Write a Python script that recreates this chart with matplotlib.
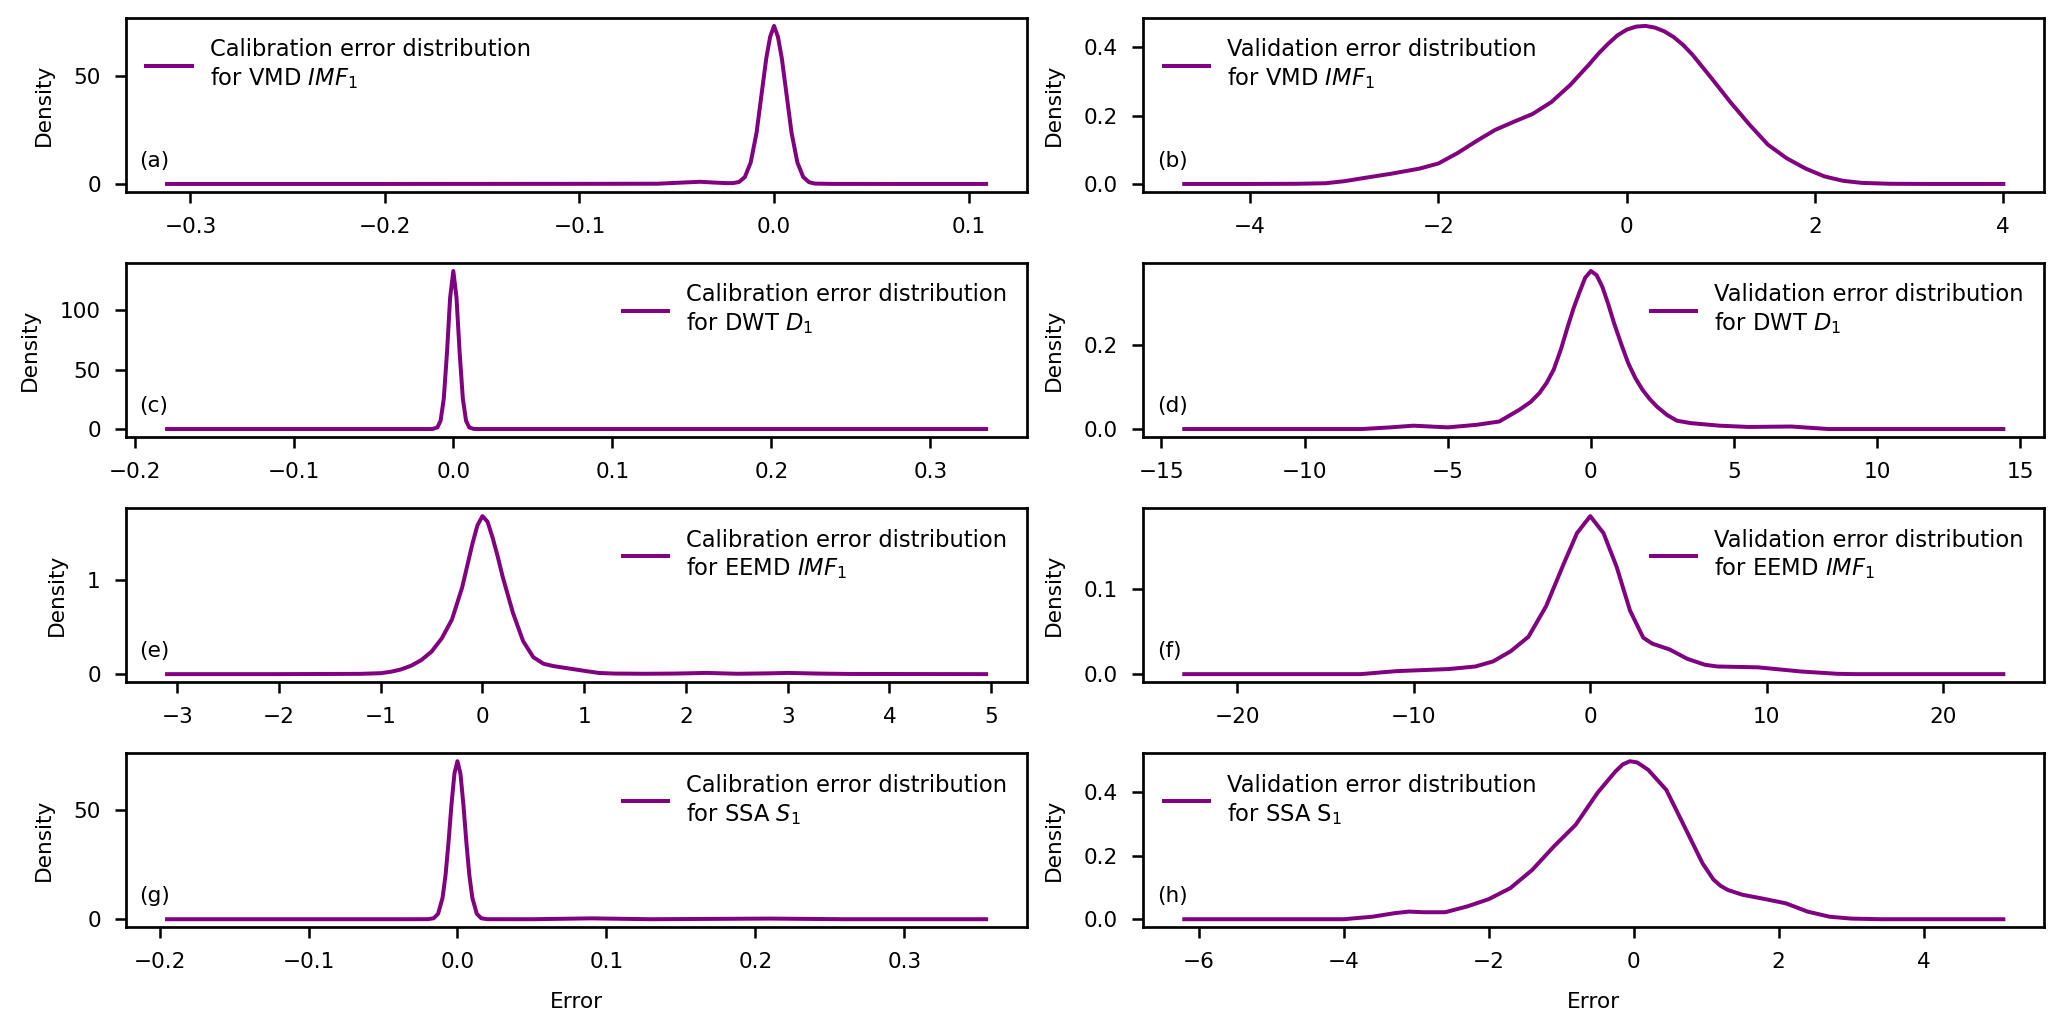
import numpy as np
import matplotlib.pyplot as plt

LINE_COLOR = 'purple'

# (a) calibration, VMD IMF1
a_x = [-0.312, -0.2, -0.1, -0.06, -0.048, -0.038, -0.03, -0.024, -0.021, -0.018, -0.015, -0.012,
       -0.009, -0.006, -0.004, -0.002, 0.0, 0.002, 0.004, 0.006, 0.009, 0.012, 0.015, 0.018, 0.021,
       0.03, 0.06, 0.109]
a_y = [0, 0, 0.05, 0.1, 0.6, 1.0, 0.6, 0.35, 0.4, 0.9, 3.2, 9.9,
       23.6, 44.3, 58, 68, 73, 68, 58, 44.3, 23.6, 9.9, 3.2, 0.8, 0.16,
       0.02, 0, 0]

# (b) validation, VMD IMF1
b_x = [-4.7, -4.0, -3.5, -3.2, -3.0, -2.8, -2.5, -2.2, -2.0, -1.8, -1.6, -1.4, -1.2, -1.0, -0.8,
       -0.6, -0.4, -0.3, -0.2, -0.1, 0.0, 0.1, 0.2, 0.3, 0.4, 0.5, 0.6, 0.7, 0.9, 1.1, 1.3, 1.5,
       1.7, 1.9, 2.1, 2.3, 2.5, 2.8, 3.2, 4.0]
b_y = [0, 0, 0.0005, 0.002, 0.008, 0.017, 0.03, 0.045, 0.06, 0.09, 0.125, 0.158, 0.182, 0.205, 0.24,
       0.29, 0.35, 0.382, 0.41, 0.435, 0.452, 0.461, 0.463, 0.458, 0.447, 0.43, 0.407, 0.378, 0.31,
       0.24, 0.175, 0.115, 0.075, 0.045, 0.022, 0.009, 0.003, 0.0005, 0, 0]

# (c) calibration, DWT D1
c_x = [-0.18, -0.05, -0.016, -0.013, -0.010, -0.008, -0.006, -0.004, -0.002, 0.0, 0.002, 0.004,
       0.006, 0.008, 0.010, 0.013, 0.016, 0.05, 0.335]
c_y = [0, 0, 0, 0.06, 1.35, 7.0, 25.5, 63.8, 110.7, 133, 110.7, 63.8,
       25.5, 7.0, 1.35, 0.06, 0, 0, 0]

# (d) validation, DWT D1
d_x = [-14.2, -8.0, -7.0, -6.2, -5.0, -4.0, -3.2, -2.5, -2.1, -1.8, -1.55, -1.3, -1.05, -0.8, -0.6,
       -0.4, -0.2, 0.0, 0.2, 0.4, 0.6, 0.8, 1.05, 1.3, 1.55, 1.8, 2.05, 2.3, 2.65, 3.0, 3.5, 4.5,
       5.5, 7.0, 8.3, 14.4]
d_y = [0, 0, 0.004, 0.008, 0.004, 0.01, 0.018, 0.046, 0.065, 0.086, 0.11, 0.142, 0.19, 0.247, 0.29,
       0.327, 0.362, 0.378, 0.368, 0.34, 0.30, 0.255, 0.205, 0.158, 0.122, 0.094, 0.072, 0.054, 0.034,
       0.02, 0.014, 0.008, 0.005, 0.006, 0.0, 0]

# (e) calibration, EEMD IMF1
e_x = [-3.1, -2.0, -1.2, -1.0, -0.9, -0.8, -0.7, -0.6, -0.5, -0.4, -0.3, -0.2, -0.15, -0.1, -0.05,
       0.0, 0.05, 0.1, 0.15, 0.2, 0.3, 0.4, 0.5, 0.6, 0.7, 0.85, 1.0, 1.15, 1.3, 1.6, 1.9, 2.2, 2.5,
       2.8, 3.0, 3.3, 3.6, 4.95]
e_y = [0, 0, 0.003, 0.01, 0.025, 0.05, 0.09, 0.15, 0.24, 0.38, 0.58, 0.92, 1.15, 1.38, 1.58,
       1.68, 1.62, 1.45, 1.25, 1.03, 0.65, 0.35, 0.18, 0.11, 0.085, 0.06, 0.035, 0.012, 0.006, 0.004,
       0.006, 0.013, 0.004, 0.008, 0.013, 0.006, 0.002, 0]

# (f) validation, EEMD IMF1
f_x = [-23.0, -13.0, -11.0, -8.0, -6.5, -5.5, -4.5, -3.5, -2.5, -1.5, -0.75, 0.0, 0.75, 1.5, 2.25,
       3.0, 3.5, 4.5, 5.5, 6.5, 7.2, 9.5, 12.0, 14.0, 15.0, 23.4]
f_y = [0, 0, 0.0035, 0.006, 0.009, 0.015, 0.027, 0.044, 0.08, 0.13, 0.166, 0.186, 0.166, 0.126,
       0.075, 0.043, 0.036, 0.029, 0.018, 0.011, 0.009, 0.008, 0.003, 0.0004, 0, 0]

# (g) calibration, SSA S1
g_x = [-0.195, -0.05, -0.02, -0.016, -0.013, -0.010, -0.008, -0.006, -0.004, -0.002, 0.0, 0.002,
       0.004, 0.006, 0.008, 0.010, 0.013, 0.016, 0.02, 0.05, 0.09, 0.13, 0.21, 0.26, 0.355]
g_y = [0, 0, 0.02, 0.43, 2.5, 9.8, 20.2, 35.3, 52.7, 67, 72.6, 67,
       52.7, 35.3, 20.2, 9.8, 2.5, 0.43, 0.02, 0, 0.4, 0, 0.3, 0, 0]

# (h) validation, SSA S1
h_x = [-6.2, -4.0, -3.6, -3.3, -3.1, -2.9, -2.6, -2.3, -2.0, -1.7, -1.4, -1.1, -0.8, -0.5, -0.35,
       -0.25, -0.15, -0.05, 0.05, 0.2, 0.45, 0.7, 0.95, 1.1, 1.2, 1.3, 1.5, 1.8, 2.1, 2.4, 2.7, 3.0,
       3.4, 5.1]
h_y = [0, 0, 0.008, 0.019, 0.024, 0.022, 0.022, 0.04, 0.063, 0.098, 0.155, 0.229, 0.297, 0.397, 0.438,
       0.465, 0.487, 0.497, 0.493, 0.47, 0.407, 0.292, 0.176, 0.125, 0.105, 0.092, 0.077, 0.064, 0.05,
       0.024, 0.008, 0.002, 0, 0]

legend_labels = [
    'Calibration error distribution\nfor VMD $IMF_1$',
    'Validation error distribution\nfor VMD $IMF_1$',
    'Calibration error distribution\nfor DWT $D_1$',
    'Validation error distribution\nfor DWT $D_1$',
    'Calibration error distribution\nfor EEMD $IMF_1$',
    'Validation error distribution\nfor EEMD $IMF_1$',
    'Calibration error distribution\nfor SSA $S_1$',
    'Validation error distribution\nfor SSA $\\mathregular{S_1}$',
]
panel_labels = ['(a)', '(b)', '(c)', '(d)', '(e)', '(f)', '(g)', '(h)']
legend_locs = ['upper left', 'upper left', 'upper right', 'upper right',
               'upper right', 'upper right', 'upper right', 'upper left']
y_ticks = [[0, 50], [0.0, 0.2, 0.4], [0, 50, 100], [0.0, 0.2],
           [0, 1], [0.0, 0.1], [0, 50], [0.0, 0.2, 0.4]]
x_ticks = [[-0.3, -0.2, -0.1, 0.0, 0.1], [-4, -2, 0, 2, 4],
           [-0.2, -0.1, 0.0, 0.1, 0.2, 0.3], [-15, -10, -5, 0, 5, 10, 15],
           [-3, -2, -1, 0, 1, 2, 3, 4, 5], [-20, -10, 0, 10, 20],
           [-0.2, -0.1, 0.0, 0.1, 0.2, 0.3], [-6, -4, -2, 0, 2, 4]]
y_fmt = ['%d', '%.1f', '%d', '%.1f', '%d', '%.1f', '%d', '%.1f']

curves = [(a_x, a_y), (b_x, b_y), (c_x, c_y), (d_x, d_y),
          (e_x, e_y), (f_x, f_y), (g_x, g_y), (h_x, h_y)]

DPI = 130
fig, axes = plt.subplots(4, 2, figsize=(2067 / DPI, 1029 / DPI), dpi=DPI)
fig.subplots_adjust(left=0.061, right=0.989, top=0.9825, bottom=0.099,
                    hspace=0.41, wspace=0.129)

for i, ax in enumerate(axes.flat):
    x, y = curves[i]
    ax.plot(x, y, color=LINE_COLOR, lw=2.2, label=legend_labels[i])
    ax.set_xticks(x_ticks[i])
    ax.set_yticks(y_ticks[i])
    ax.set_yticklabels([y_fmt[i] % v for v in y_ticks[i]])
    xr = max(x) - min(x)
    ax.set_xlim(min(x) - 0.05 * xr, max(x) + 0.05 * xr)
    ax.set_ylim(-0.05 * max(y), 1.05 * max(y))
    ax.tick_params(labelsize=12, length=6, width=1.4, pad=8)
    for s in ax.spines.values():
        s.set_linewidth(1.5)
    ax.set_ylabel('Density', fontsize=12, labelpad=11)
    ax.legend(loc=legend_locs[i], frameon=False, fontsize=12.5)
    ax.text(0.015, 0.18, panel_labels[i], transform=ax.transAxes,
            fontsize=12, va='center', ha='left')

axes[3, 0].set_xlabel('Error', fontsize=12, labelpad=11)
axes[3, 1].set_xlabel('Error', fontsize=12, labelpad=11)

fig.savefig('out.png', dpi=DPI)
